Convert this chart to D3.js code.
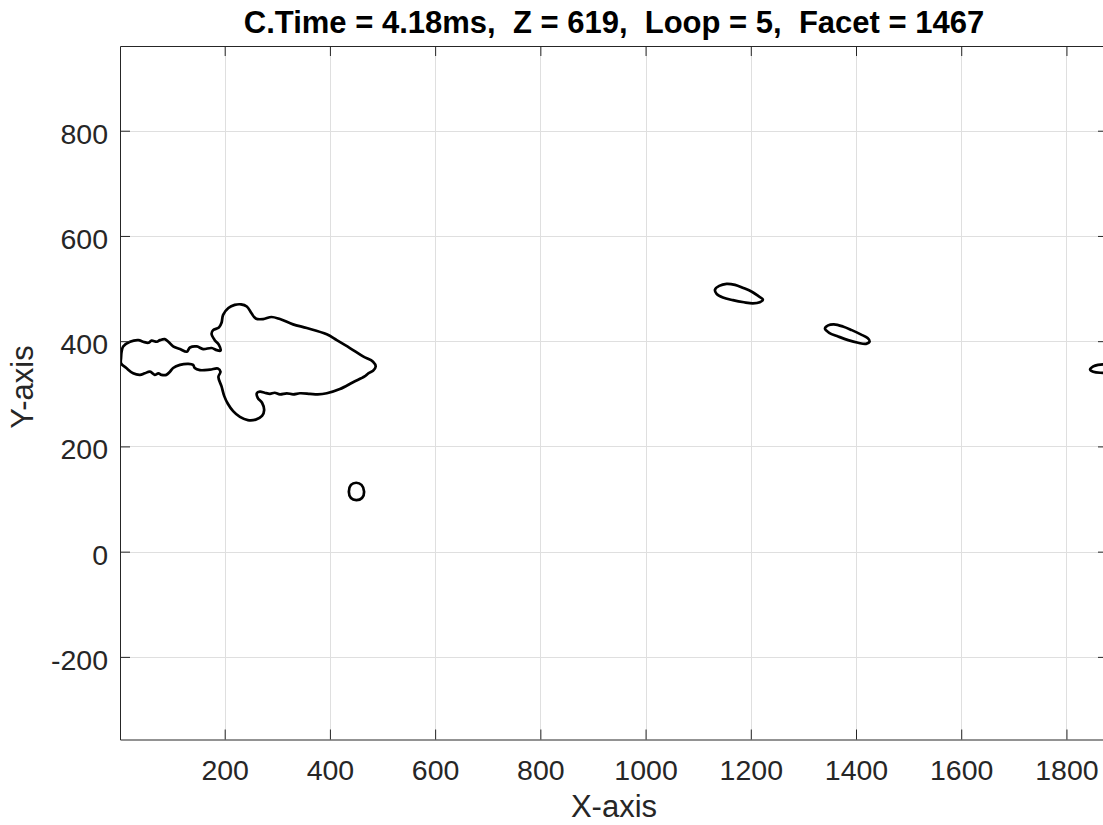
<!DOCTYPE html>
<html><head><meta charset="utf-8">
<script src="https://cdn.jsdelivr.net/npm/d3@7"></script>
<style>
body{margin:0;background:#fff}
svg{display:block}
</style>
</head><body>
<svg id="c" width="1103" height="825"></svg>
<script>
// ---------- data ----------
const titleText = "C.Time = 4.18ms,  Z = 619,  Loop = 5,  Facet = 1467";
const xLabelText = "X-axis";
const yLabelText = "Y-axis";
const xTicks = [200, 400, 600, 800, 1000, 1200, 1400, 1600, 1800];
const yTicks = [-200, 0, 200, 400, 600, 800];
const xDomain = [1, 1879];
const yDomain = [-357, 961];

// main flame contour (x, y)
const mainContour = [
  [3,368],[4,380],[7,390],[20,399],[36,402],[45,399],[55,397],[61,401],[71,399],[77,402],
  [86,404],[93,399],[102,390],[115,385],[128,380],[134,388],[147,390],[159,385],[175,387],
  [185,383],[192,382],[189,393],[181,402],[175,414],[178,421],[189,426],[194,435],[197,450],
  [207,463],[219,469],[231,470],[242,466],[251,453],[259,443],[273,442],[289,446],[305,442],
  [330,432],[356,425],[394,413],[413,402],[438,387],[463,371],[482,361],[487,352],[482,344],
  [473,339],[466,333],[444,322],[419,309],[394,301],[377,299],[362,300],[343,301],[330,299],
  [318,301],[305,299],[295,302],[286,300],[276,302],[267,304],[261,301],[263,292],[271,283],
  [275,269],[271,258],[259,251],[244,250],[229,256],[216,267],[206,281],[199,296],[194,314],
  [188,332],[192,342],[187,348],[172,346],[153,345],[143,349],[140,355],[131,357],[115,355],
  [102,349],[96,342],[89,336],[80,336],[74,339],[67,336],[58,342],[48,339],[39,336],[26,339],
  [13,349],[3,358]
];
const dropletA = [
  [1132,498],[1140,505],[1154,509],[1170,507],[1186,501],[1202,494],[1214,486],[1223,479],
  [1217,474],[1204,472],[1187,474],[1166,478],[1147,483],[1135,490]
];
const dropletB = [
  [1341,424],[1347,430],[1358,432],[1375,428],[1392,421],[1409,413],[1422,406],[1426,400],
  [1419,395],[1404,397],[1385,402],[1366,409],[1349,416]
];
const dropletC = [
  [1845,346],[1851,352],[1860,355],[1875,356],[1892,353],[1898,346],[1887,341],[1864,340],[1851,342]
];
const dropletD = [
  [450,131],[460,127],[465,114],[461,102],[450,98],[440,102],[436,114],[440,127]
];
const contours = [mainContour, dropletA, dropletB, dropletC, dropletD];

// ---------- layout ----------
const L = 120, R = 1108, T = 46, B = 739.5;
const axisColor = "#262626";
const font = "'Liberation Sans', Arial, Helvetica, sans-serif";
const tickFont = 28.5, labelFont = 31;
const fmt = d => String(d);

const svg = d3.select("#c");
const x = d3.scaleLinear().domain(xDomain).range([L, R]);
const y = d3.scaleLinear().domain(yDomain).range([B, T]);

svg.append("rect").attr("width", 1103).attr("height", 825).attr("fill", "#fff");

// grid
const grid = svg.append("g").attr("stroke", "#dfdfdf").attr("stroke-width", 1);
grid.selectAll("line.gx").data(xTicks).join("line")
  .attr("x1", d => Math.round(x(d)) + 0.5).attr("x2", d => Math.round(x(d)) + 0.5)
  .attr("y1", T).attr("y2", B);
grid.selectAll("line.gy").data(yTicks).join("line")
  .attr("y1", d => Math.round(y(d)) + 0.5).attr("y2", d => Math.round(y(d)) + 0.5)
  .attr("x1", L).attr("x2", R);

// contours
svg.append("clipPath").attr("id", "clip").append("rect")
  .attr("x", L).attr("y", T).attr("width", R - L).attr("height", B - T);
const line = d3.line().x(d => x(d[0])).y(d => y(d[1])).curve(d3.curveCatmullRomClosed.alpha(0.5));
svg.append("g").attr("clip-path", "url(#clip)")
  .selectAll("path").data(contours).join("path")
  .attr("d", line).attr("fill", "none").attr("stroke", "#000")
  .attr("stroke-width", 2.7).attr("stroke-linejoin", "round");

// axes
function styleAxis(g) {
  g.attr("font-family", font).attr("font-size", tickFont);
  g.select(".domain").attr("stroke", axisColor).attr("stroke-width", 1);
  g.selectAll(".tick line").attr("stroke", axisColor).attr("stroke-width", 1);
  g.selectAll(".tick text").attr("fill", axisColor);
}
const xAxis = svg.append("g").attr("transform", `translate(0,${B})`)
  .call(d3.axisBottom(x).tickValues(xTicks).tickSizeInner(-10).tickSizeOuter(0).tickFormat(fmt));
styleAxis(xAxis);
xAxis.selectAll(".tick text").attr("y", 40.5).attr("dy", 0);

const xAxisTop = svg.append("g").attr("transform", `translate(0,${T})`)
  .call(d3.axisTop(x).tickValues(xTicks).tickSizeInner(-10).tickSizeOuter(0).tickFormat(""));
styleAxis(xAxisTop);

const yAxis = svg.append("g").attr("transform", `translate(${L},0)`)
  .call(d3.axisLeft(y).tickValues(yTicks).tickSizeInner(-10).tickSizeOuter(0).tickFormat(fmt));
styleAxis(yAxis);
yAxis.selectAll(".tick text").attr("x", -12).attr("dy", "0.44em");

const yAxisRight = svg.append("g").attr("transform", `translate(${R},0)`)
  .call(d3.axisRight(y).tickValues(yTicks).tickSizeInner(-10).tickSizeOuter(0).tickFormat(""));
styleAxis(yAxisRight);

// labels
svg.append("text").attr("x", (L + R) / 2).attr("y", 33)
  .attr("text-anchor", "middle").attr("font-family", font).attr("font-size", labelFont)
  .attr("font-weight", "bold").attr("fill", "#000").style("white-space", "pre")
  .attr("xml:space", "preserve").text(titleText);
svg.append("text").attr("x", (L + R) / 2).attr("y", 817)
  .attr("text-anchor", "middle").attr("font-family", font).attr("font-size", labelFont)
  .attr("fill", axisColor).text(xLabelText);
svg.append("text").attr("transform", "translate(33,387) rotate(-90)")
  .attr("text-anchor", "middle").attr("font-family", font).attr("font-size", labelFont)
  .attr("fill", axisColor).text(yLabelText);
</script>
</body></html>
